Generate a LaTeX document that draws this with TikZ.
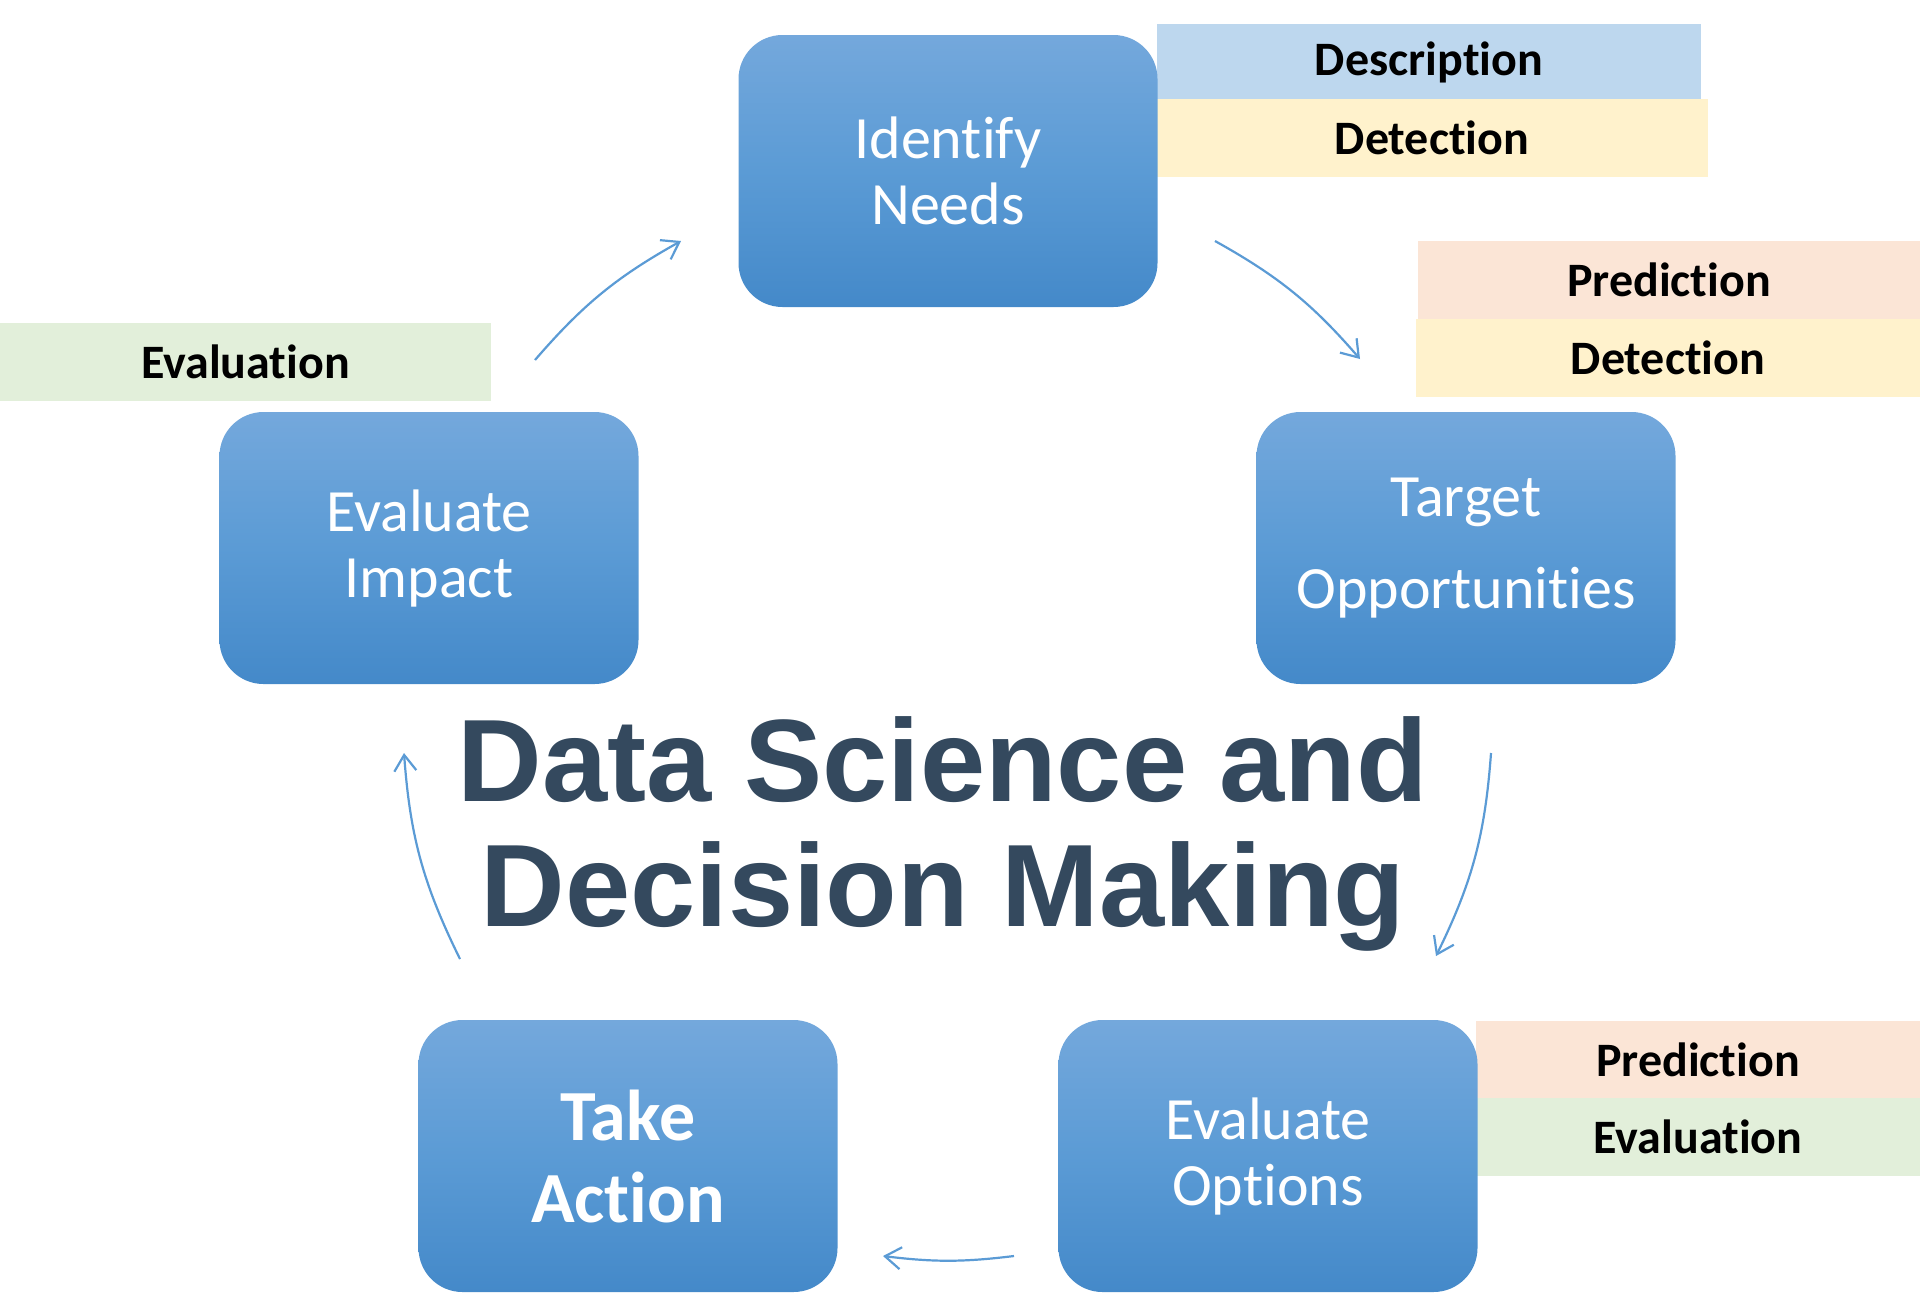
\documentclass[tikz,border=0pt]{standalone}
\usepackage{fontspec}
\setmainfont{Carlito}[Ligatures=NoCommon]
\newfontfamily\headfont{Liberation Sans}
\usetikzlibrary{arrows.meta}
\definecolor{boxtop}{RGB}{116,168,220}
\definecolor{boxmid}{RGB}{91,155,213}
\definecolor{boxbot}{RGB}{68,137,201}
\definecolor{tagblue}{RGB}{189,215,238}
\definecolor{tagyellow}{RGB}{255,242,204}
\definecolor{tagpeach}{RGB}{251,229,214}
\definecolor{taggreen}{RGB}{226,239,218}
\definecolor{flow}{RGB}{91,155,213}
\definecolor{headcol}{RGB}{52,73,94}

\begin{document}
\begin{tikzpicture}[x=0.5pt,y=-0.5pt,
  stage/.style={rounded corners=22pt, minimum width=209.5pt, minimum height=136pt,
    top color=boxtop, bottom color=boxbot, middle color=boxmid,
    text=white, align=center, inner sep=0pt, font=\fontsize{30}{33}\selectfont},
  tag/.style={minimum height=39pt, inner sep=0pt, text=black,
    font=\bfseries\fontsize{24}{28}\selectfont},
  flowarrow/.style={draw=flow, line width=1.1pt,
    -{Straight Barb[length=8pt,width=11pt]}}]

\useasboundingbox (0,0) rectangle (1920,1296);

% coloured method tags
\node[tag, fill=tagblue,   minimum width=272pt, minimum height=38pt] (desc)  at (1429,62)   {Description};
\node[tag, fill=tagyellow, minimum width=276pt] (detA)  at (1432,138)  {Detection};
\node[tag, fill=tagpeach,  minimum width=251pt] (predA) at (1669,280)  {Prediction};
\node[tag, fill=tagyellow, minimum width=252pt] (detB)  at (1668,358)  {Detection};
\node[tag, fill=taggreen,  minimum width=245.5pt] (evalA) at (245.5,362) {Evaluation};
\node[tag, fill=tagpeach,  minimum width=222pt] (predB) at (1698,1060) {Prediction};
\node[tag, fill=taggreen,  minimum width=222pt] (evalB) at (1698,1137) {Evaluation};

% the five stages of the cycle
\node[stage] (needs) at (948,171) {Identify\\Needs};
\node[stage, font=\fontsize{30}{46}\selectfont] (target) at (1466,548) {Target\\Opportunities};
\node[stage] (options) at (1268,1156) {Evaluate\\Options};
\node[stage, font=\bfseries\fontsize{36}{41}\selectfont] (action) at (628,1156) {Take\\Action};
\node[stage] (impact) at (429,548) {Evaluate\\Impact};

% central heading
\node[font=\headfont\bfseries\fontsize{58.6}{62.5}\selectfont, text=headcol,
      align=center, inner sep=0pt] (title) at (943,834) {Data Science and\\Decision Making};

% arc ends on the cycle
\coordinate (n1) at (1215,241);  \coordinate (n2) at (1360,359);
\coordinate (t1) at (1491,753);  \coordinate (t2) at (1436,956);
\coordinate (o1) at (1014,1256); \coordinate (o2) at (883,1256);
\coordinate (a1) at (460,959);   \coordinate (a2) at (404,753);
\coordinate (i1) at (535,360);   \coordinate (i2) at (681,241);

\draw[flowarrow] (n1) to[bend left=10] (n2);
\draw[flowarrow] (t1) to[bend left=11] (t2);
\draw[flowarrow] (o1) to[bend left=7]  (o2);
\draw[flowarrow] (a1) to[bend left=11] (a2);
\draw[flowarrow] (i1) to[bend left=10] (i2);
\end{tikzpicture}
\end{document}
